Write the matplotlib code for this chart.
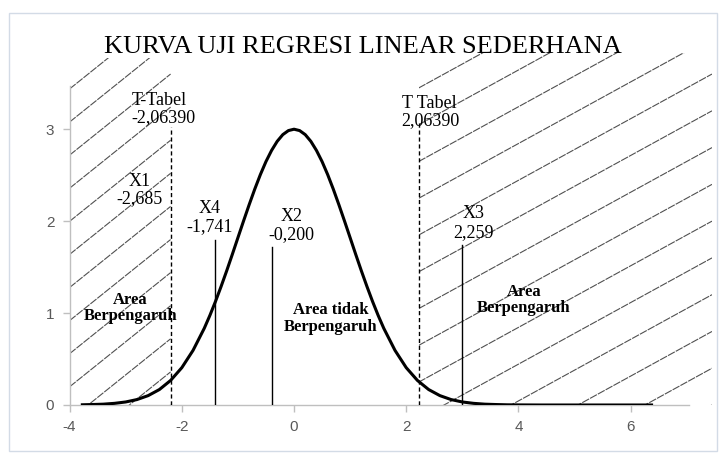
import numpy as np
import matplotlib
matplotlib.use("Agg")
import matplotlib.pyplot as plt
from matplotlib.patches import Rectangle

# ---------------- data ----------------
curve_x = [-3.8, -3.6, -3.4, -3.2, -3.0, -2.8, -2.6, -2.4, -2.2, -2.0,
           -1.8, -1.6, -1.5, -1.4, -1.3, -1.2, -1.1, -1.0, -0.9, -0.8,
           -0.7, -0.6, -0.5, -0.4, -0.3, -0.2, -0.1, 0.0,
           0.1, 0.2, 0.3, 0.4, 0.5, 0.6, 0.7, 0.8, 0.9, 1.0,
           1.1, 1.2, 1.3, 1.4, 1.5, 1.6, 1.8, 2.0,
           2.2, 2.4, 2.6, 2.8, 3.0, 3.2, 3.4, 3.6, 3.8, 4.0,
           4.4, 4.8, 5.2, 5.6, 6.0, 6.4]
curve_y = [0.002, 0.005, 0.009, 0.018, 0.033, 0.059, 0.102, 0.168, 0.267, 0.406,
           0.594, 0.834, 0.974, 1.126, 1.289, 1.460, 1.638, 1.820, 2.001, 2.178,
           2.348, 2.506, 2.648, 2.769, 2.868, 2.941, 2.985, 3.000,
           2.985, 2.941, 2.868, 2.769, 2.648, 2.506, 2.348, 2.178, 2.001, 1.820,
           1.638, 1.460, 1.289, 1.126, 0.974, 0.834, 0.594, 0.406,
           0.267, 0.168, 0.102, 0.059, 0.033, 0.018, 0.009, 0.005, 0.002, 0.001,
           0.0, 0.0, 0.0, 0.0, 0.0, 0.0]

t_table_x = [-2.2, 2.22]          # dashed critical lines
t_table_top = [3.02, 3.07]
t_table_labels = ["T-Tabel\n-2,06390", "T Tabel\n2,06390"]

stat_names = ["X4", "X2", "X3"]
stat_x = [-1.41, -0.40, 2.99]      # solid marker lines
stat_top = [1.80, 1.72, 1.74]
stat_labels = ["X4\n-1,741", "X2\n-0,200", "X3\n2,259"]
x1_label = "X1\n-2,685"

area_labels = ["Area\nBerpengaruh", "Area tidak\nBerpengaruh", "Area\nBerpengaruh"]

x_ticks = [-4, -2, 0, 2, 4, 6]
y_ticks = [0, 1, 2, 3]
title = "KURVA UJI REGRESI LINEAR SEDERHANA"

# ---------------- figure ----------------
W, H, DPI = 725, 453, 100
fig = plt.figure(figsize=(W / DPI, H / DPI), dpi=DPI)

# light outer frame
fig.patches.append(Rectangle((9 / W, 1 - 451 / H), (717 - 9) / W, (451 - 13) / H,
                             transform=fig.transFigure, fill=False,
                             edgecolor="#d3dbe6", linewidth=1.0))

ax = fig.add_axes([69.6 / W, 1 - 405 / H, (689 - 69.6) / W, (405 - 86) / H])
ax.set_xlim(-4, 7.04)
ax.set_ylim(0, 3.47)

serif = "Liberation Serif"
sans = "Liberation Sans"

# ---- hatching (decorative diagonal lines) ----
def hatch(x0, x1, y0, y1, slope, spacing):
    clip = Rectangle((x0, y0), x1 - x0, y1 - y0, transform=ax.transData,
                     fill=False, edgecolor="none")
    ax.add_patch(clip)
    clip.set_clip_on(False)
    span = slope * (x1 - x0)
    b = y0 - span
    while b < y1:
        ln, = ax.plot([x0, x1], [b, b + span], color="#505050", lw=0.8,
                      ls=(0, (7, 1.0)), zorder=1, clip_on=True)
        ln.set_clip_path(clip)
        b += spacing

hatch(-4.0, -2.2, 0.0, 3.77, 0.49, 0.36)
hatch(2.22, 7.45, 0.0, 3.83, 0.335, 0.40)

# ---- curve ----
ax.plot(curve_x, curve_y, color="black", lw=2.2, zorder=4, solid_capstyle="butt",
        solid_joinstyle="round")

# ---- dashed T table lines ----
for xv, top in zip(t_table_x, t_table_top):
    ax.plot([xv, xv], [0, top], color="black", lw=1.0, ls=(0, (3, 2)), zorder=3)

# ---- statistic lines ----
for xv, top in zip(stat_x, stat_top):
    ax.plot([xv, xv], [0, top], color="black", lw=1.0, zorder=3)

# ---- text labels ----
tfs = 13
ax.text(-2.90, 3.22, t_table_labels[0], fontsize=tfs, family=serif, ha="left",
        va="center", linespacing=1.0, zorder=5)
ax.text(1.92, 3.19, t_table_labels[1], fontsize=tfs, family=serif, ha="left",
        va="center", linespacing=1.0, zorder=5)
ax.text(-2.75, 2.34, x1_label, fontsize=tfs, family=serif, ha="center",
        va="center", linespacing=1.0, zorder=5)
lab_pos = [(-1.50, 2.04), (-0.04, 1.95), (3.20, 1.98)]
for (px, py), s in zip(lab_pos, stat_labels):
    ax.text(px, py, s, fontsize=tfs, family=serif, ha="center", va="center",
            linespacing=1.1, zorder=5)

afs = 12
ax.text(-2.92, 1.06, area_labels[0], fontsize=afs, family=serif, weight="bold",
        ha="center", va="center", linespacing=1.0, zorder=5)
ax.text(0.65, 0.94, area_labels[1], fontsize=afs, family=serif, weight="bold",
        ha="center", va="center", linespacing=1.05, zorder=5)
ax.text(4.10, 1.14, area_labels[2], fontsize=afs, family=serif, weight="bold",
        ha="center", va="center", linespacing=1.0, zorder=5)

# ---- axes styling ----
for s in ["top", "right"]:
    ax.spines[s].set_visible(False)
for s in ["left", "bottom"]:
    ax.spines[s].set_color("#bfbfbf")
    ax.spines[s].set_linewidth(1.0)
ax.set_xticks(x_ticks)
ax.set_yticks(y_ticks)
ax.tick_params(axis="both", colors="#bfbfbf", labelcolor="#595959",
               length=5, width=1.0, direction="out", labelsize=11, pad=6)
ax.set_xticklabels([str(v) for v in x_ticks])
ax.set_yticklabels([str(v) for v in y_ticks])
for lab in ax.get_xticklabels() + ax.get_yticklabels():
    lab.set_family(sans)

fig.text(0.5, 1 - 47 / H, title, family=serif, fontsize=19, ha="center",
         va="center")

fig.savefig("out.png", dpi=DPI)
